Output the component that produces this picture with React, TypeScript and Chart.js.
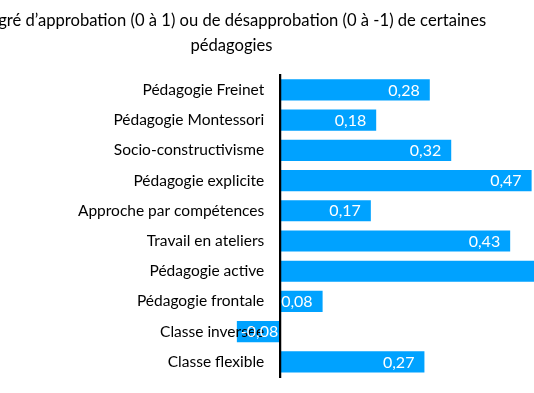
import { useEffect, useRef } from "react";
import { Chart, registerables } from "chart.js";

Chart.register(...registerables);

const categories = [
  "Pédagogie Freinet",
  "Pédagogie Montessori",
  "Socio-constructivisme",
  "Pédagogie explicite",
  "Approche par compétences",
  "Travail en ateliers",
  "Pédagogie active",
  "Pédagogie frontale",
  "Classe inversée",
  "Classe flexible",
];
const approvalValues = [0.28, 0.18, 0.32, 0.47, 0.17, 0.43, 0.58, 0.08, -0.08, 0.27];
const titleLines = [
  "Degré d’approbation (0 à 1) ou de désapprobation (0 à -1) de certaines",
  "pédagogies",
];
const xMin = -0.8;
const xMax = 0.62;

const FONT = "Lato";
const BAR_COLOR = "#00A2FF";

const valueLabels = {
  id: "valueLabels",
  afterDraw(chart: any) {
    const ctx = chart.ctx;
    const meta = chart.getDatasetMeta(0);
    ctx.save();
    ctx.font = `16px ${FONT}`;
    ctx.fillStyle = "#ffffff";
    ctx.textBaseline = "middle";
    meta.data.forEach((bar: any, i: number) => {
      const v = approvalValues[i];
      const txt = v.toFixed(2).replace(".", ",");
      if (v >= 0) {
        ctx.textAlign = "right";
        ctx.fillText(txt, bar.x - 10, bar.y + 0.5);
      } else {
        ctx.textAlign = "left";
        ctx.fillText(txt, bar.x + 4, bar.y + 0.5);
      }
    });
    ctx.restore();
  },
};

export default function App() {
  const ref = useRef<HTMLCanvasElement | null>(null);

  useEffect(() => {
    if (!ref.current) return;
    const chart = new Chart(ref.current, {
      type: "bar",
      data: {
        labels: categories,
        datasets: [
          {
            data: approvalValues,
            backgroundColor: BAR_COLOR,
            borderWidth: 0,
            categoryPercentage: 0.7,
            barPercentage: 1,
          },
        ],
      },
      options: {
        indexAxis: "y",
        animation: false,
        responsive: false,
        layout: { padding: { left: 21, right: 18, top: 0, bottom: 16 } },
        plugins: {
          legend: { display: false },
          tooltip: { enabled: false },
          title: {
            display: true,
            text: titleLines,
            color: "#000000",
            font: { family: FONT, size: 16.6, weight: "normal", lineHeight: 1.47 },
            padding: { top: 8.75, bottom: 17.25 },
          },
        },
        scales: {
          x: {
            type: "linear",
            display: false,
            min: xMin,
            max: xMax,
          },
          y: {
            type: "category",
            position: { x: 0 } as any,
            grid: { display: false, drawTicks: false },
            border: { display: true, color: "#000000", width: 2.25, z: 1 },
            ticks: {
              color: "#000000",
              font: { family: FONT, size: 15.5 },
              z: 1,
              callback: (_v: any, i: number) => categories[i] + "\u2002\u2002",
            },
          },
        },
      },
      plugins: [valueLabels],
    });
    return () => chart.destroy();
  }, []);

  return (
    <canvas
      ref={ref}
      width={800}
      height={393}
      style={{ position: "absolute", left: -170, top: 0, width: 800, height: 393 }}
    />
  );
}
